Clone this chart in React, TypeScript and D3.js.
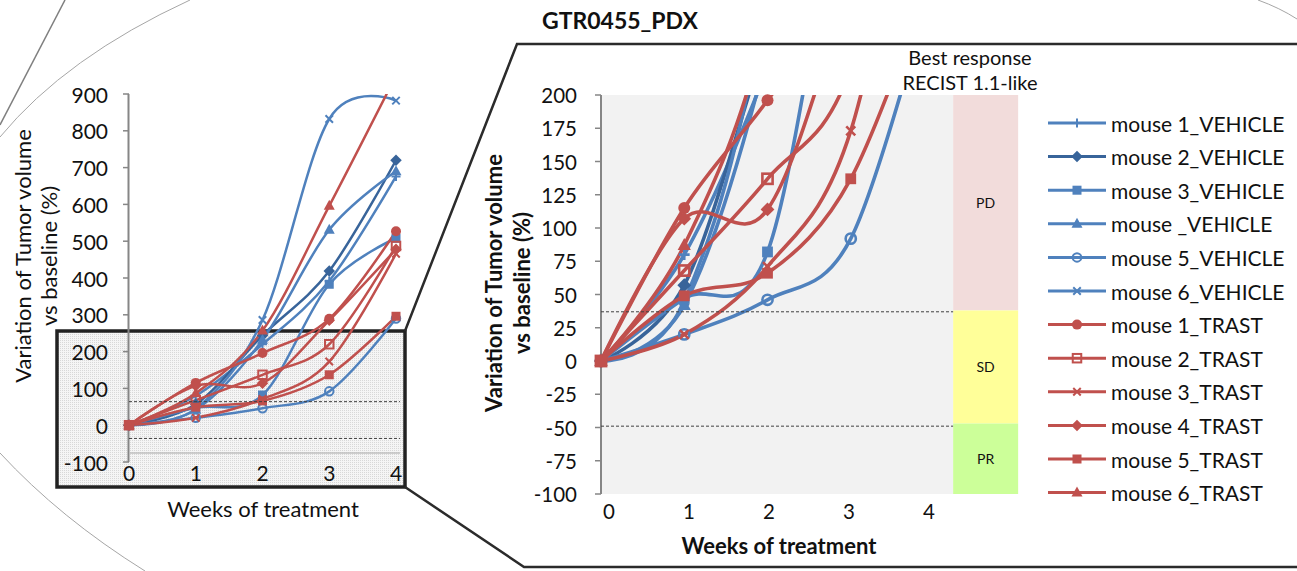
import * as d3 from 'd3';

// weeks of treatment
const weeks = [0, 1, 2, 3, 4];

// variation of tumor volume vs baseline (%), one array per mouse
const vehicle1 = [0, 80, 220, 392, 676];
const vehicle2 = [0, 57, 244, 419, 720];
const vehicle3 = [0, 47, 82, 383, 508];
const vehicle4 = [0, 42, 232, 531, 690];
const vehicle5 = [0, 20, 46, 92, 290];
const vehicle6 = [0, 45, 286, 832, 882];
const trast1 = [0, 115, 196, 289, 527];
const trast2 = [0, 68, 137, 220, 487];
const trast3 = [0, 20, 71, 173, 466];
const trast4 = [0, 107, 114, 285, 478];
const trast5 = [0, 49, 66, 137, 296];
const trast6 = [0, 87, 257, 596, 950];

const seriesValues = [vehicle1, vehicle2, vehicle3, vehicle4, vehicle5, vehicle6, trast1, trast2, trast3, trast4, trast5, trast6];
const seriesNames = [
  'mouse 1_VEHICLE', 'mouse 2_VEHICLE', 'mouse 3_VEHICLE', 'mouse _VEHICLE', 'mouse 5_VEHICLE', 'mouse 6_VEHICLE',
  'mouse 1_TRAST', 'mouse 2_TRAST', 'mouse 3_TRAST', 'mouse 4_TRAST', 'mouse 5_TRAST', 'mouse 6_TRAST',
];
const seriesMarkers = ['plus', 'diamond', 'square', 'triangle', 'circleOpen', 'cross', 'circle', 'squareOpen', 'cross', 'diamond', 'square', 'triangle'];

const BLUE = '#4F81BD';
const DARK_BLUE = '#38649A';
const RED = '#C0504D';
const seriesColors = [BLUE, DARK_BLUE, BLUE, BLUE, BLUE, BLUE, RED, RED, RED, RED, RED, RED];

const overviewTicks = d3.range(-100, 901, 100);
const zoomTicks = d3.range(-100, 201, 25);

// RECIST-like response bands (limits in %)
const responseLabels = ['PD', 'SD', 'PR'];
const responseLimits = [200, 38, -47, -100];
const responseColors = ['#F2DCDB', '#FFFF99', '#CCFF99'];
const cutoffLines = [37, -49];
const overviewCutoffs = [64, -36];

const FONT = 'Lato, "Liberation Sans", sans-serif';

// scales for the small overview chart
const xO = d3.scaleLinear().domain([0, 4]).range([129, 396]);
const yO = d3.scaleLinear().domain([-100, 900]).range([462, 94]);

// scales for the zoomed chart
const xZ = d3.scaleLinear().domain([0, 4]).range([601, 934]);
const yZ = d3.scaleLinear().domain([-100, 200]).range([494, 95]);
const xZLabel = d3.scalePoint<number>().domain(weeks).range([609, 929]);
const zoomRight = xZ(4.23);
const bandRight = zoomRight + 65;

const smooth = d3.curveCardinal.tension(0);
const lineO = d3.line<number>().x((_, i) => xO(weeks[i])).y(v => yO(v)).curve(smooth);
const lineZ = d3.line<number>().x((_, i) => xZ(weeks[i])).y(v => yZ(v)).curve(smooth);

function marker(type: string, x: number, y: number, s: number, sw: number, color: string, key: string) {
  switch (type) {
    case 'circle':
      return <circle key={key} cx={x} cy={y} r={s} fill={color} />;
    case 'circleOpen':
      return <circle key={key} cx={x} cy={y} r={s * 0.85} fill="none" stroke={color} strokeWidth={sw} />;
    case 'square':
      return <rect key={key} x={x - s * 0.9} y={y - s * 0.9} width={s * 1.8} height={s * 1.8} fill={color} />;
    case 'squareOpen':
      return <rect key={key} x={x - s * 0.85} y={y - s * 0.85} width={s * 1.7} height={s * 1.7} fill="none" stroke={color} strokeWidth={sw} />;
    case 'diamond': {
      const h = s * 1.15;
      return <path key={key} d={`M${x},${y - h}L${x + h},${y}L${x},${y + h}L${x - h},${y}Z`} fill={color} />;
    }
    case 'triangle':
      return <path key={key} d={`M${x},${y - s * 1.2}L${x + s * 1.1},${y + s * 0.8}L${x - s * 1.1},${y + s * 0.8}Z`} fill={color} />;
    case 'cross': {
      const h = s * 0.75;
      return <path key={key} d={`M${x - h},${y - h}L${x + h},${y + h}M${x + h},${y - h}L${x - h},${y + h}`} stroke={color} strokeWidth={sw} fill="none" />;
    }
    default: {
      const h = s * 0.9;
      return <path key={key} d={`M${x - h},${y}L${x + h},${y}M${x},${y - h}L${x},${y + h}`} stroke={color} strokeWidth={sw} fill="none" />;
    }
  }
}

export default function App() {
  return (
    <svg width={1297} height={571} style={{ position: 'absolute', left: 0, top: 0, background: '#fff' }} fontFamily={FONT}>
      <defs>
        <clipPath id="clipO"><rect x={xO(0) - 1} y={yO(900)} width={272} height={yO(-100) - yO(900)} /></clipPath>
        <clipPath id="clipZ"><rect x={xZ(0)} y={yZ(200)} width={zoomRight - xZ(0)} height={yZ(-100) - yZ(200)} /></clipPath>
        <pattern id="dots" width={2} height={2} patternUnits="userSpaceOnUse">
          <rect width={2} height={2} fill="#f5f5f5" />
          <rect width={1} height={1} fill="#d8d8d8" />
        </pattern>
      </defs>

      {/* decorative arcs */}
      <path d="M0,137Q66,57 190,0" fill="none" stroke="#a6a6a6" strokeWidth={1} />
      <path d="M0,125L65,0" fill="none" stroke="#7f7f7f" strokeWidth={1.5} />
      <path d="M0,453Q60,518 145,571" fill="none" stroke="#a6a6a6" strokeWidth={1} />
      <path d="M1258,0Q1280,8 1297,19" fill="none" stroke="#a6a6a6" strokeWidth={1} />

      {/* zoom box on the overview chart */}
      <rect x={57} y={331} width={348} height={156} fill="url(#dots)" stroke="#222" strokeWidth={3.5} />
      <line x1={130} x2={400} y1={453} y2={453} stroke="#bfbfbf" strokeWidth={1.5} />

      {/* connector frame */}
      <path d="M405,331L517,44L1297,44" fill="none" stroke="#2b2b2b" strokeWidth={2.5} />
      <path d="M405,487L524,567L1297,567" fill="none" stroke="#2b2b2b" strokeWidth={2.5} />

      {/* ---------- overview chart ---------- */}
      <line x1={xO(0) - 0.5} x2={xO(0) - 0.5} y1={yO(900)} y2={yO(-100)} stroke="#868686" strokeWidth={2} />
      {overviewTicks.map(t => (
        <g key={`ot${t}`}>
          <line x1={xO(0) - 6} x2={xO(0)} y1={yO(t)} y2={yO(t)} stroke="#868686" strokeWidth={1.5} />
          <text x={108} y={yO(t)} textAnchor="end" dominantBaseline="central" fontSize={21} fill="#111">{t}</text>
        </g>
      ))}
      {weeks.map(w => (
        <text key={`ox${w}`} x={xO(w)} y={472} textAnchor="middle" dominantBaseline="central" fontSize={21} fill="#111">{w}</text>
      ))}
      <text x={263} y={508} textAnchor="middle" dominantBaseline="central" fontSize={22} fill="#111">Weeks of treatment</text>
      <text transform="translate(22,256) rotate(-90)" textAnchor="middle" dominantBaseline="central" fontSize={22} fill="#111">Variation of Tumor volume</text>
      <text transform="translate(48,256) rotate(-90)" textAnchor="middle" dominantBaseline="central" fontSize={22} fill="#111">vs baseline (%)</text>

      <g clipPath="url(#clipO)">
        {seriesValues.map((vals, i) => (
          <path key={`ol${i}`} d={lineO(vals) ?? ''} fill="none" stroke={seriesColors[i]} strokeWidth={2.5} />
        ))}
      </g>
      {seriesValues.map((vals, i) =>
        vals.map((v, j) => (v <= 900 ? marker(seriesMarkers[i], xO(weeks[j]), yO(v), 5, 2, seriesColors[i], `om${i}-${j}`) : null))
      )}
      {overviewCutoffs.map(c => (
        <line key={`oc${c}`} x1={xO(0)} x2={400} y1={yO(c)} y2={yO(c)} stroke="#404040" strokeWidth={1} strokeDasharray="3,2" />
      ))}

      {/* ---------- zoomed chart ---------- */}
      <text x={542} y={20} dominantBaseline="central" fontSize={23} fontWeight="bold" fill="#111">GTR0455_PDX</text>

      <rect x={xZ(0)} y={yZ(200)} width={zoomRight - xZ(0)} height={yZ(-100) - yZ(200)} fill="#F2F2F2" />
      {responseLabels.map((lab, i) => (
        <g key={lab}>
          <rect x={zoomRight} y={yZ(responseLimits[i])} width={bandRight - zoomRight} height={yZ(responseLimits[i + 1]) - yZ(responseLimits[i])} fill={responseColors[i]} />
          <text x={(zoomRight + bandRight) / 2} y={(yZ(responseLimits[i]) + yZ(responseLimits[i + 1])) / 2} textAnchor="middle" dominantBaseline="central" fontSize={14} fill="#111">{lab}</text>
        </g>
      ))}
      <text x={970} y={57} textAnchor="middle" dominantBaseline="central" fontSize={20} fill="#111">Best response</text>
      <text x={970} y={82} textAnchor="middle" dominantBaseline="central" fontSize={20} fill="#111">RECIST 1.1-like</text>

      <line x1={xZ(0)} x2={xZ(0)} y1={yZ(200)} y2={yZ(-100)} stroke="#868686" strokeWidth={2} />
      {zoomTicks.map(t => (
        <g key={`zt${t}`}>
          <line x1={xZ(0) - 6} x2={xZ(0)} y1={yZ(t)} y2={yZ(t)} stroke="#868686" strokeWidth={1.5} />
          <text x={577} y={yZ(t)} textAnchor="end" dominantBaseline="central" fontSize={20.5} fill="#111">{t}</text>
        </g>
      ))}
      {weeks.map(w => (
        <text key={`zx${w}`} x={xZLabel(w)} y={511} textAnchor="middle" dominantBaseline="central" fontSize={20.5} fill="#111">{w}</text>
      ))}
      <text x={779} y={545} textAnchor="middle" dominantBaseline="central" fontSize={22} fontWeight="bold" fill="#111">Weeks of treatment</text>
      <text transform="translate(493,283) rotate(-90)" textAnchor="middle" dominantBaseline="central" fontSize={22} fontWeight="bold" fill="#111">Variation of Tumor volume</text>
      <text transform="translate(521,283) rotate(-90)" textAnchor="middle" dominantBaseline="central" fontSize={22} fontWeight="bold" fill="#111">vs baseline (%)</text>

      <g clipPath="url(#clipZ)">
        {seriesValues.map((vals, i) => (
          <path key={`zl${i}`} d={lineZ(vals) ?? ''} fill="none" stroke={seriesColors[i]} strokeWidth={3.6} />
        ))}
      </g>
      {seriesValues.map((vals, i) =>
        vals.map((v, j) => (v <= 200 ? marker(seriesMarkers[i], xZ(weeks[j]), yZ(v), 6, 2.6, seriesColors[i], `zm${i}-${j}`) : null))
      )}
      {cutoffLines.map(c => (
        <line key={`zc${c}`} x1={xZ(0)} x2={zoomRight} y1={yZ(c)} y2={yZ(c)} stroke="#404040" strokeWidth={1} strokeDasharray="3,2" />
      ))}

      {/* legend */}
      {seriesNames.map((name, i) => {
        const y = 123 + i * 33.6;
        return (
          <g key={name}>
            <line x1={1048} x2={1106} y1={y} y2={y} stroke={seriesColors[i]} strokeWidth={3} />
            {marker(seriesMarkers[i], 1077, y, 5, 2, seriesColors[i], `lm${i}`)}
            <text x={1111} y={y} dominantBaseline="central" fontSize={21} fill="#111">{name}</text>
          </g>
        );
      })}
    </svg>
  );
}
